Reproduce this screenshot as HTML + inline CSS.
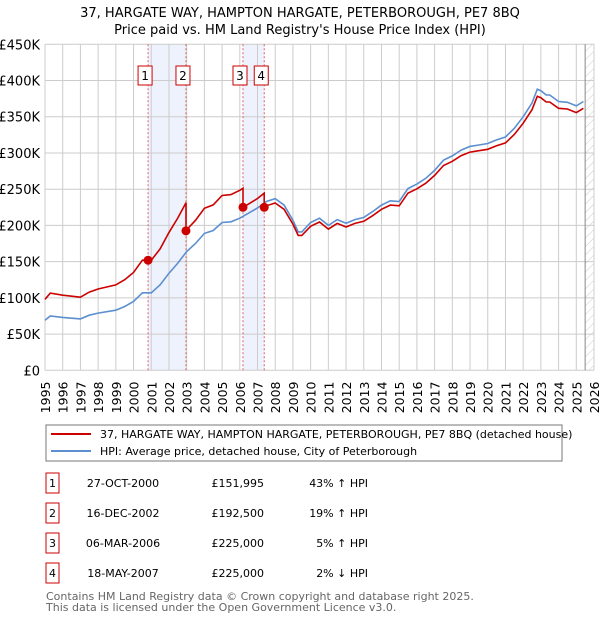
<!DOCTYPE html>
<html><head><meta charset="utf-8"><style>
body{margin:0;background:#fff;font-family:"Liberation Sans","DejaVu Sans",sans-serif;}
#wrap{position:relative;width:600px;height:620px;overflow:hidden}
svg text{font-family:"DejaVu Sans","Liberation Sans",sans-serif}
</style></head><body><div id="wrap">
<svg id="c" width="600" height="620"></svg>
</div>
<script>
const hpiYears=[1995,1995.3,1996,1997,1997.5,1998,1999,1999.5,2000,2000.5,2001,2001.5,2002,2002.5,2003,2003.5,2004,2004.5,2005,2005.5,2006,2006.5,2007,2007.5,2008,2008.5,2009,2009.3,2009.5,2010,2010.5,2011,2011.5,2012,2012.5,2013,2013.5,2014,2014.5,2015,2015.5,2016,2016.5,2017,2017.5,2018,2018.5,2019,2019.5,2020,2020.5,2021,2021.5,2022,2022.5,2022.8,2023,2023.3,2023.5,2024,2024.5,2025,2025.4];
const hpiValues=[69,75,73,71,76,79,83,88,95,107,107,118,134,148,164,175,189,193,204,205,210,217,224,233,237,228,207,191,191,204,210,200,208,203,208,211,219,228,234,233,251,257,265,276,290,296,304,309,311,313,318,322,334,350,369,388,386,380,380,371,370,365,371];
const saleDates=[2000.82,2002.96,2006.18,2007.38];
const salePrices=[151.995,192.5,225,225];
const saleLabels=["1","2","3","4"];
const saleDateText=["27-OCT-2000","16-DEC-2002","06-MAR-2006","18-MAY-2007"];
const salePriceText=["£151,995","£192,500","£225,000","£225,000"];
const saleHpiText=["43% ↑ HPI","19% ↑ HPI","5% ↑ HPI","2% ↓ HPI"];
const yTicks=[0,50,100,150,200,250,300,350,400,450];
const yTickLabels=["£0","£50K","£100K","£150K","£200K","£250K","£300K","£350K","£400K","£450K"];
const xYears=[1995,1996,1997,1998,1999,2000,2001,2002,2003,2004,2005,2006,2007,2008,2009,2010,2011,2012,2013,2014,2015,2016,2017,2018,2019,2020,2021,2022,2023,2024,2025,2026];

const NS="http://www.w3.org/2000/svg",svg=document.getElementById('c');
const X0=45,X1=594,Y0=370.3,Y1=44.3;
const xs=t=>X0+(t-1995)/31*(X1-X0);
const ys=v=>Y0-v/450*(Y0-Y1);
function mk(tag,attrs,parent){const e=document.createElementNS(NS,tag);for(const k in attrs)e.setAttribute(k,attrs[k]);(parent||svg).appendChild(e);return e;}
function hpiAt(t){for(let i=1;i<hpiYears.length;i++){if(t<=hpiYears[i]){const a=hpiYears[i-1],b=hpiYears[i];return hpiValues[i-1]+(hpiValues[i]-hpiValues[i-1])*(t-a)/(b-a);}}return hpiValues[hpiValues.length-1];}

let t;
t=mk('text',{x:300,y:17,'text-anchor':'middle','font-size':13,fill:'#000'});t.textContent="37, HARGATE WAY, HAMPTON HARGATE, PETERBOROUGH, PE7 8BQ";

t=mk('text',{x:300,y:34,'text-anchor':'middle','font-size':13,fill:'#000'});t.textContent="Price paid vs. HM Land Registry's House Price Index (HPI)";


// shaded periods
[[0,1],[2,3]].forEach(p=>{const r=mk('rect',{x:xs(saleDates[p[0]]),y:Y1,width:xs(saleDates[p[1]])-xs(saleDates[p[0]]),height:Y0-Y1,fill:'#eef2fc'});
});
// hatch
const pat=mk('pattern',{id:'h',width:6,height:6,patternUnits:'userSpaceOnUse',patternTransform:'rotate(45)'},mk('defs',{}));
mk('line',{x1:0,y1:0,x2:0,y2:6,stroke:'#ccc','stroke-width':1},pat);
const hr=mk('rect',{x:xs(2025.5),y:Y1,width:X1-xs(2025.5),height:Y0-Y1,fill:'url(#h)'});

// grid
xYears.forEach(y=>{const l=mk('line',{x1:xs(y),x2:xs(y),y1:Y1,y2:Y0,stroke:'#ccc','stroke-width':1});
 const tx=mk('text',{transform:`translate(${xs(y)+5},${Y0+43}) rotate(-90)`,'font-size':12.5,fill:'#000'});tx.textContent=y;
 });
yTicks.forEach((v,i)=>{const l=mk('line',{x1:X0,x2:X1,y1:ys(v),y2:ys(v),stroke:'#ccc','stroke-width':1});
 const tx=mk('text',{x:X0-5,y:ys(v)+5,'text-anchor':'end','font-size':13,fill:'#000'});tx.textContent=yTickLabels[i];
 });
const vl=mk('line',{x1:xs(2025.5),x2:xs(2025.5),y1:Y1,y2:Y0,stroke:'#888','stroke-width':1});
// sale vertical dashed lines + boxes
saleDates.forEach((d,i)=>{const l=mk('line',{x1:xs(d),x2:xs(d),y1:Y1,y2:Y0,stroke:'#e06060','stroke-width':1,'stroke-dasharray':'2,2'});
 
 const g=mk('g',{});
 mk('rect',{x:xs(d)-10,y:66,width:14,height:19,fill:'#fff',stroke:'#c00','stroke-width':1},g);
 const tx=mk('text',{x:xs(d)-3,y:80,'text-anchor':'middle','font-size':12,fill:'#000'},g);tx.textContent=saleLabels[i];});
// series
const hp=hpiYears.map((y,i)=>`${i?'L':'M'}${xs(y).toFixed(1)},${ys(hpiValues[i]).toFixed(1)}`).join('');
const hl=mk('path',{d:hp,fill:'none',stroke:'#5b8fd0','stroke-width':1.6});
// red: price-paid indexed by HPI from each sale
const ratios=saleDates.map((d,i)=>salePrices[i]/hpiAt(d));
let rp='';hpiYears.forEach((y,i)=>{let k=0;for(let j=0;j<saleDates.length;j++)if(y>=saleDates[j])k=j;const r=ratios[k];
 rp+=`${rp?'L':'M'}${xs(y).toFixed(1)},${ys(hpiValues[i]*r).toFixed(1)}`;
 const nxt=hpiYears[i+1];saleDates.forEach((d,j)=>{if(nxt!==undefined&&d>y&&d<=nxt){rp+=`L${xs(d).toFixed(1)},${ys(hpiAt(d)*ratios[j-1<0?0:j-1]).toFixed(1)}L${xs(d).toFixed(1)},${ys(salePrices[j]).toFixed(1)}`;}});});
const rl=mk('path',{d:rp,fill:'none',stroke:'#cc0000','stroke-width':1.6});
saleDates.forEach((d,i)=>{const c=mk('circle',{cx:xs(d),cy:ys(salePrices[i]),r:4.5,fill:'#cc0000'});});
// legend
const lg=mk('g',{});
mk('rect',{x:46,y:425,width:516,height:36,fill:'#fff',stroke:'#777','stroke-width':1},lg);
mk('line',{x1:51,x2:91,y1:434,y2:434,stroke:'#cc0000','stroke-width':2},lg);
mk('line',{x1:51,x2:91,y1:451,y2:451,stroke:'#5b8fd0','stroke-width':2},lg);
t=mk('text',{x:100,y:438,'font-size':11,fill:'#000'},lg);t.textContent="37, HARGATE WAY, HAMPTON HARGATE, PETERBOROUGH, PE7 8BQ (detached house)";
t=mk('text',{x:100,y:455,'font-size':11,fill:'#000'},lg);t.textContent="HPI: Average price, detached house, City of Peterborough";
// table
saleDates.forEach((d,i)=>{const y=483+i*30;const g=mk('g',{});
 mk('rect',{x:46,y:y-10,width:13,height:20,fill:'#fff',stroke:'#c00','stroke-width':1},g);
 let a=mk('text',{x:52.5,y:y+4,'text-anchor':'middle','font-size':11,fill:'#000'},g);a.textContent=saleLabels[i];
 a=mk('text',{x:123,y:y+4,'text-anchor':'middle','font-size':11,fill:'#000'},g);a.textContent=saleDateText[i];
 a=mk('text',{x:264,y:y+4,'text-anchor':'end','font-size':11,fill:'#000'},g);a.textContent=salePriceText[i];
 a=mk('text',{x:368,y:y+4,'text-anchor':'end','font-size':11,fill:'#000'},g);a.textContent=saleHpiText[i];});
t=mk('text',{x:46,y:600,'font-size':11,fill:'#666'});t.textContent="Contains HM Land Registry data © Crown copyright and database right 2025.";

t=mk('text',{x:46,y:611,'font-size':11,fill:'#666'});t.textContent="This data is licensed under the Open Government Licence v3.0.";

</script></body></html>
